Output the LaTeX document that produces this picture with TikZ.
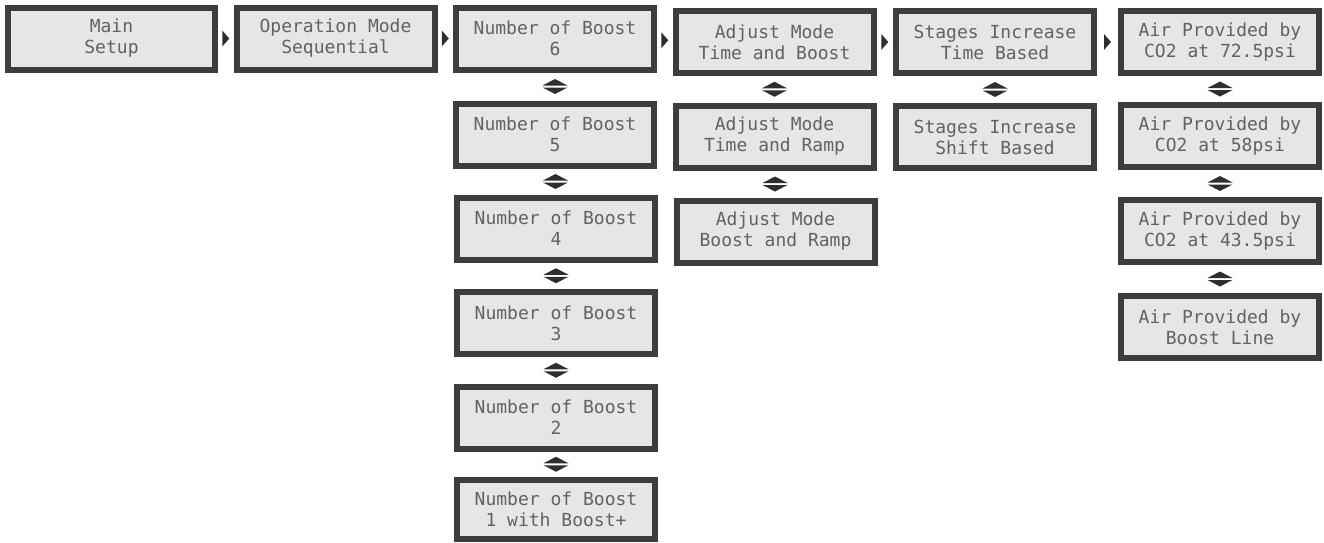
\documentclass[tikz,border=0pt]{standalone}
\usepackage{fontspec}
\newfontfamily\lcdfont{DejaVu Sans Mono}
\definecolor{lcdbg}{HTML}{E6E6E6}
\definecolor{lcdframe}{HTML}{3D3D3D}
\definecolor{lcdtext}{HTML}{626262}
\definecolor{marker}{HTML}{2E2E2E}

\begin{document}
\begin{tikzpicture}[x=1pt,y=-1pt,
  screen/.style={draw=lcdframe, fill=lcdbg, line width=6pt,
    minimum width=198pt, minimum height=62pt, inner sep=0pt,
    align=center, text=lcdtext, font=\lcdfont\fontsize{18}{21}\selectfont},
  updown/.pic={
    \fill[marker] (-12.5,-1) -- (12.5,-1) -- (0,-7.5) -- cycle;
    \fill[marker] (-12.5,1) -- (12.5,1) -- (0,7.5) -- cycle;},
  nextarrow/.pic={
    \fill[marker] (-3.5,-8) -- (3.5,0) -- (-3.5,8) -- cycle;}]

\useasboundingbox (0,0) rectangle (1324,542);

% first two screens
\node[screen, minimum width=207pt] (main) at (111.5,38.5) {Main\\Setup};
\node[screen] (opmode) at (335.5,38.5) {Operation Mode\\Sequential};

% number of boost column
\node[screen] (nb6) at (555,38.5)  {Number of Boost\\6};
\node[screen] (nb5) at (555,134.5) {Number of Boost\\5};
\node[screen] (nb4) at (556,228.5) {Number of Boost\\4};
\node[screen] (nb3) at (556,323)   {Number of Boost\\3};
\node[screen] (nb2) at (556,417.5) {Number of Boost\\2};
\node[screen, minimum height=59pt] (nb1) at (556,509.5) {Number of Boost\\1 with Boost+};

% adjust mode column
\node[screen] (am1) at (774.5,42)    {Adjust Mode\\Time and Boost};
\node[screen] (am2) at (774.5,136.5) {Adjust Mode\\Time and Ramp};
\node[screen] (am3) at (775.5,231.5) {Adjust Mode\\Boost and Ramp};

% stages column
\node[screen] (si1) at (995,42)  {Stages Increase\\Time Based};
\node[screen] (si2) at (995,137) {Stages Increase\\Shift Based};

% air supply column
\node[screen] (ap1) at (1220,42)  {Air Provided by\\CO2 at 72.5psi};
\node[screen] (ap2) at (1220,136) {Air Provided by\\CO2 at 58psi};
\node[screen] (ap3) at (1220,231) {Air Provided by\\CO2 at 43.5psi};
\node[screen] (ap4) at (1220,327) {Air Provided by\\Boost Line};

% forward markers between columns
\foreach \a/\b/\n in {main/opmode/f1, opmode/nb6/f2, nb6/am1/f3, am1/si1/f4, si1/ap1/f5}{
  \path (\a) -- (\b) coordinate[midway] (\n);
  \pic at (\n) {nextarrow};
}

% scroll markers inside each column
\foreach \a/\b/\n in {nb6/nb5/s1, nb5/nb4/s2, nb4/nb3/s3, nb3/nb2/s4, nb2/nb1/s5,
                      am1/am2/s6, am2/am3/s7, si1/si2/s8,
                      ap1/ap2/s9, ap2/ap3/s10, ap3/ap4/s11}{
  \path (\a) -- (\b) coordinate[midway] (\n);
  \pic at (\n) {updown};
}
\end{tikzpicture}
\end{document}
